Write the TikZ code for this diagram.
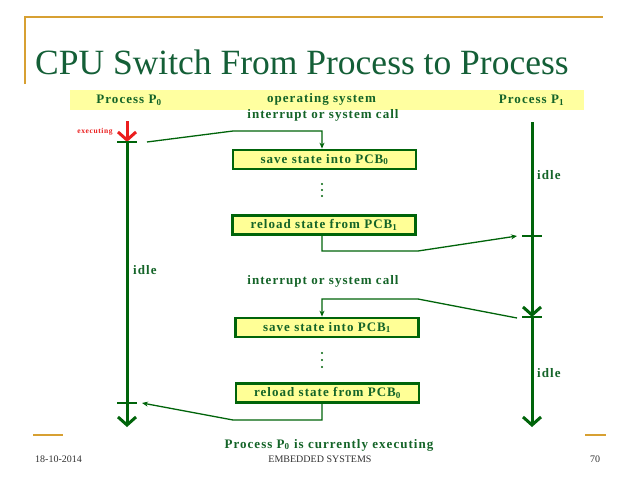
\documentclass[tikz,border=0pt]{standalone}
\usepackage{fontspec}
\setmainfont{Liberation Serif}
\newfontfamily\dfont[LetterSpace=8]{Liberation Serif}
\usetikzlibrary{arrows.meta}
\definecolor{dkgreen}{RGB}{0,100,10}
\definecolor{txtgreen}{RGB}{20,100,40}
\definecolor{titlegreen}{RGB}{20,95,55}
\definecolor{boxyellow}{RGB}{255,255,150}
\definecolor{bandyellow}{RGB}{255,255,160}
\definecolor{gold}{RGB}{215,160,50}
\definecolor{exred}{RGB}{235,30,30}
\definecolor{footgray}{RGB}{50,50,50}
\newcommand{\psub}[1]{\textsubscript{#1}}
\tikzset{
  lbl/.style={font=\dfont\bfseries\fontsize{13}{13}\selectfont, text=txtgreen, inner sep=0pt},
  pbox/.style={draw=dkgreen, line width=2.8pt, fill=boxyellow, minimum width=183pt, minimum height=19pt, inner sep=0pt, font=\dfont\bfseries\fontsize{13}{13}\selectfont, text=txtgreen},
  procline/.style={draw=dkgreen, line width=3pt, -{Straight Barb[length=8pt,width=18pt]}},
  tickmark/.style={draw=dkgreen, line width=2.5pt},
  conn/.style={draw=dkgreen, line width=1.3pt, -{Stealth[length=6pt,width=5pt]}},
  goldline/.style={draw=gold, line width=1.3pt},
  foot/.style={font=\fontsize{10}{10}\selectfont, text=footgray, inner sep=0pt},
  dotmark/.style={fill=dkgreen}
}
\begin{document}
\begin{tikzpicture}[x=1pt,y=-1pt]
\useasboundingbox (0,0) rectangle (638,479);
\fill[white] (0,0) rectangle (638,479);
% slide decoration
\draw[goldline] (25,84) -- (25,17) -- (603,17);
\draw[goldline] (33,435) -- (63,435);
\draw[goldline] (585,435) -- (606,435);
% title
\node[anchor=base west, inner sep=0pt, text=titlegreen, font=\fontsize{35.5}{35.5}\selectfont] (title) at (35,74) {CPU Switch From Process to Process};
% header band
\fill[bandyellow] (70,90) rectangle (584,110);
\node[lbl] (hp0) at (129,100) {Process P\psub{0}};
\node[lbl] (hos) at (321.5,99.5) {operating system};
\node[lbl] (hp1) at (531.5,100) {Process P\psub{1}};
\node[lbl] (int1) at (323,115) {interrupt or system call};
\node[lbl] (int2) at (323,281) {interrupt or system call};
\node[lbl] (curr) at (329,445) {Process P\psub{0} is currently executing};
% boxes
\node[pbox] (box1) at (324.5,159.5) {save state into PCB\psub{0}};
\node[pbox] (box2) at (324,225) {reload state from PCB\psub{1}};
\node[pbox] (box3) at (327,327.5) {save state into PCB\psub{1}};
\node[pbox] (box4) at (327.5,393) {reload state from PCB\psub{0}};
% dots
\foreach \yy in {184,190,196,353,360,367} \fill[dotmark] (322,\yy) circle (1.2pt);
% process P0 timeline
\coordinate (p0top) at (127,121);
\coordinate (p0t1) at (127,142);
\coordinate (p0t2) at (127,403);
\coordinate (p0end) at (127,427);
\draw[procline, draw=exred] (p0top) -- (p0t1);
\draw[procline] (p0t1) -- (p0end);
\draw[tickmark] ([xshift=-10pt]p0t1) -- ([xshift=10pt]p0t1);
\draw[tickmark] ([xshift=-10pt]p0t2) -- ([xshift=10pt]p0t2);
\node[font=\dfont\bfseries\fontsize{7.5}{7.5}\selectfont, text=exred, inner sep=0pt] (exec) at (95,132) {executing};
\node[lbl, anchor=west] (idle0) at (133,270) {idle};
% process P1 timeline
\coordinate (p1top) at (532,122);
\coordinate (p1t1) at (532,236);
\coordinate (p1t2) at (532,317);
\coordinate (p1end) at (532,427);
\draw[procline] (p1top) -- (p1t2);
\draw[procline] (p1t2) -- (p1end);
\draw[tickmark] ([xshift=-10pt]p1t1) -- ([xshift=10pt]p1t1);
\draw[tickmark] ([xshift=-10pt]p1t2) -- ([xshift=10pt]p1t2);
\node[lbl, anchor=west] (idle1) at (537,175) {idle};
\node[lbl, anchor=west] (idle2) at (537,373) {idle};
% connectors
\coordinate (c1s) at (147,142);
\coordinate (c1b) at (233,131);
\coordinate (c2b) at (418,251);
\coordinate (c2e) at (517,236);
\coordinate (c3s) at (517,318);
\coordinate (c3b) at (418,299);
\coordinate (c4b) at (233,420);
\coordinate (c4e) at (142,403);
\draw[conn] (c1s) -- (c1b) -| ([xshift=-2.5pt]box1.north);
\draw[conn] ([xshift=-2pt]box2.south) |- (c2b) -- (c2e);
\draw[conn] (c3s) -- (c3b) -| ([xshift=-5pt]box3.north);
\draw[conn] ([xshift=-5.5pt]box4.south) |- (c4b) -- (c4e);
% footer
\node[foot, anchor=west] (date) at (35,459) {18-10-2014};
\node[foot] (emb) at (320,459) {EMBEDDED SYSTEMS};
\node[foot] (pg) at (595,459) {70};
\end{tikzpicture}
\end{document}
